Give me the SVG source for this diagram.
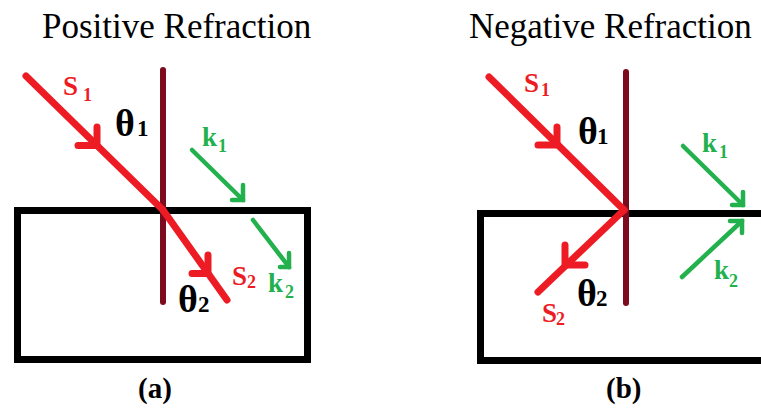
<svg xmlns="http://www.w3.org/2000/svg" width="761" height="408" viewBox="0 0 761 408" font-family="'Liberation Serif', 'Times New Roman', serif">
<style>
.title{font-size:35px;fill:#000}
.cap{font-size:29px;font-weight:bold;fill:#000}
.red{fill:#ed1c24}
.grn{fill:#22b14c}
.blk{fill:#000}
.box{fill:none;stroke:#000;stroke-width:7}
.normal{fill:none;stroke:#7d0b1e;stroke-width:6;stroke-linecap:round}
.ray{fill:none;stroke:#ed1c24;stroke-width:7;stroke-linecap:round;stroke-linejoin:round}
.wave{fill:none;stroke:#22b14c;stroke-width:4.5;stroke-linecap:round;stroke-linejoin:miter}
</style>
<rect width="761" height="408" fill="#fff"/>

<g id="panel-a">
  <text class="title" x="42" y="38">Positive Refraction</text>
  <g id="medium-a"><rect class="box" x="17.5" y="210.5" width="290" height="149"/></g>
  <g id="normal-a"><line class="normal" x1="163" y1="70" x2="163" y2="302"/></g>
  <g id="labels-a" font-weight="bold">
    <text class="red" x="63" y="95" font-size="27">S</text><text class="red" x="83" y="101" font-size="18">1</text>
    <text class="blk" x="115" y="136" font-size="38">θ</text><text class="blk" x="137" y="136" font-size="23">1</text>
    <text class="grn" x="202" y="146" font-size="27">k</text><text class="grn" x="218" y="152" font-size="18">1</text>
    <text class="red" x="232" y="285" font-size="27">S</text><text class="red" x="247" y="288" font-size="18">2</text>
    <text class="grn" x="268" y="292" font-size="27">k</text><text class="grn" x="285" y="298" font-size="18">2</text>
    <text class="blk" x="178" y="312" font-size="38">θ</text><text class="blk" x="198" y="312" font-size="23">2</text>
  </g>
  <text class="cap" x="138" y="398">(a)</text>
</g>

<g id="panel-b">
  <text class="title" x="469" y="38">Negative Refraction</text>
  <g id="medium-b"><rect class="box" x="480.5" y="213.5" width="320" height="147"/></g>
  <g id="normal-b"><line class="normal" x1="626" y1="72" x2="626" y2="303"/></g>
  <g id="labels-b" font-weight="bold">
    <text class="red" x="524" y="92" font-size="27">S</text><text class="red" x="541" y="96" font-size="18">1</text>
    <text class="blk" x="578" y="144" font-size="38">θ</text><text class="blk" x="597" y="144" font-size="23">1</text>
    <text class="grn" x="702" y="152" font-size="27">k</text><text class="grn" x="719" y="158" font-size="18">1</text>
    <text class="grn" x="714" y="279" font-size="27">k</text><text class="grn" x="729" y="287" font-size="18">2</text>
    <text class="blk" x="577" y="306" font-size="38">θ</text><text class="blk" x="596" y="306" font-size="23">2</text>
    <text class="red" x="542" y="322" font-size="27">S</text><text class="red" x="556" y="325" font-size="18">2</text>
  </g>
  <text class="cap" x="606" y="398">(b)</text>
</g>

<g id="connectors">
  <g id="s1-a"><polyline class="ray" points="26,76 163,210"/><polyline class="ray" points="97,127 97,145.5 78,145.5"/></g>
  <g id="s2-a"><polyline class="ray" points="163,210 227,300"/><polyline class="ray" points="208,255 208,273.5 192,273.5"/></g>
  <g id="k1-a"><polyline class="wave" points="192,150 243,200"/><polyline class="wave" points="243,185 243,200 232,200"/></g>
  <g id="k2-a"><polyline class="wave" points="253,220 289,267"/><polyline class="wave" points="289,253 289,267 280,267"/></g>

  <g id="s1-b"><polyline class="ray" points="489,77 624,210"/><polyline class="ray" points="557,127 557,145 538,145"/></g>
  <g id="s2-b"><polyline class="ray" points="624,210 538,292"/><polyline class="ray" points="565,245 565,265 585,265"/></g>
  <g id="k1-b"><polyline class="wave" points="683,146 743,205"/><polyline class="wave" points="743,192 743,205 732,205"/></g>
  <g id="k2-b"><polyline class="wave" points="682,277 742,221"/><polyline class="wave" points="742,233 742,221 730,221"/></g>
</g>
</svg>
